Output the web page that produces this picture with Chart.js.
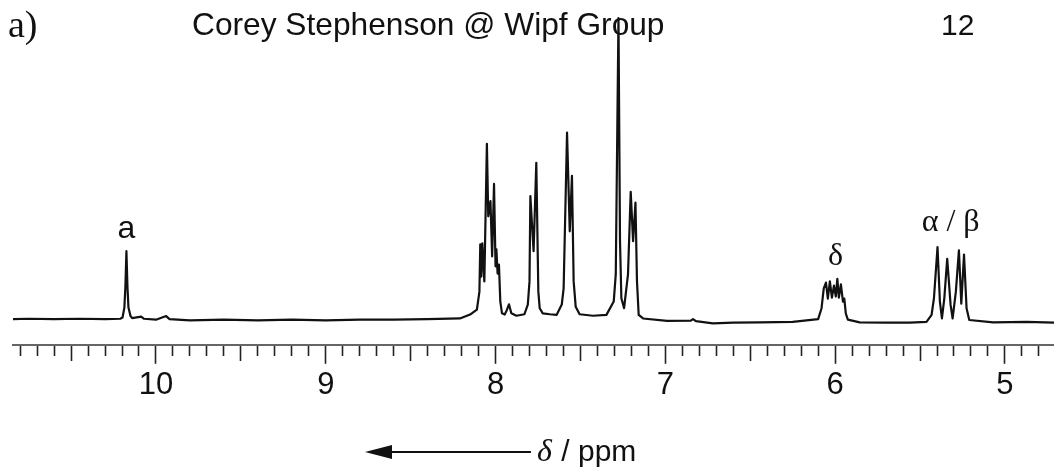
<!DOCTYPE html>
<html>
<head>
<meta charset="utf-8">
<script src="https://cdn.jsdelivr.net/npm/chart.js@4.4.1/dist/chart.umd.min.js"></script>
<style>
  html, body { margin: 0; padding: 0; background: #fff; }
  canvas { display: block; }
</style>
</head>
<body>
<canvas id="c" width="1054" height="467"></canvas>
<script>
// Chemical shift (ppm) and relative intensity (tallest line = 100)
const ppm = [
  10.842, 10.75, 10.60, 10.45, 10.30, 10.21, 10.197, 10.186, 10.180, 10.174, 10.168, 10.162, 10.150, 10.14,
  10.087, 10.07, 10.0, 9.94, 9.92, 9.80, 9.60, 9.40, 9.20, 9.00, 8.80, 8.60, 8.40, 8.21, 8.15, 8.11,
  8.095, 8.09, 8.084, 8.078, 8.066, 8.051, 8.043, 8.030, 8.020, 8.009, 8.000, 7.995, 7.988, 7.980, 7.972,
  7.962, 7.946, 7.935, 7.921, 7.907, 7.877, 7.83, 7.81, 7.800, 7.795, 7.776, 7.760, 7.748, 7.740, 7.722,
  7.68, 7.64, 7.61, 7.599, 7.579, 7.563, 7.550, 7.540, 7.528, 7.505, 7.426, 7.347, 7.304, 7.292, 7.276,
  7.267, 7.259, 7.243, 7.22, 7.204, 7.19, 7.176, 7.167, 7.157, 7.131, 6.99, 6.85, 6.837, 6.82, 6.72,
  6.60, 6.44, 6.25, 6.10, 6.08, 6.067, 6.054, 6.043, 6.031, 6.019, 6.007, 5.996, 5.987, 5.978, 5.966,
  5.954, 5.946, 5.937, 5.925, 5.855, 5.70, 5.56, 5.462, 5.432, 5.418, 5.397, 5.383, 5.371, 5.357, 5.340,
  5.320, 5.308, 5.289, 5.271, 5.257, 5.241, 5.226, 5.210, 5.069, 4.872, 4.711
];
const intensity = [
  0.2, 0.3, 0.2, 0.3, 0.2, 0.3, 0.7, 4.0, 11.0, 22.7, 11.0, 4.0, 1.2, 0.5,
  1.0, 0.3, 0.0, 1.2, 0.2, -0.2, 0.0, -0.2, 0.0, -0.2, 0.0, 0.0, 0.2, 0.4, 1.7, 3.3,
  9.3, 25.0, 14.3, 25.3, 12.7, 58.3, 34.3, 39.3, 21.0, 45.0, 17.7, 23.3, 15.3, 18.3, 6.0,
  2.1, 1.7, 3.0, 5.1, 2.1, 1.3, 1.8, 5.0, 12.7, 41.0, 22.7, 52.0, 9.3, 3.8, 2.1,
  1.8, 1.6, 5.0, 10.4, 62.0, 29.3, 47.7, 12.7, 4.3, 1.8, 1.3, 1.6, 6.0, 15.0, 100,
  26.0, 7.1, 3.8, 15.0, 42.4, 26.0, 38.8, 12.7, 1.6, 0.4, -0.4, -0.3, 0.2, -0.5, -1.2,
  -1.0, -0.9, -0.7, 0.2, 3.8, 10.4, 12.3, 7.0, 12.7, 7.3, 11.3, 7.7, 13.5, 7.3, 11.7,
  6.0, 7.0, 2.0, 0.0, -0.9, -1.0, -1.0, -0.7, 1.6, 7.1, 24.1, 6.0, 0.4, 7.1, 20.2,
  4.9, 0.4, 9.3, 23.0, 5.3, 21.6, 3.8, -0.1, -0.9, -0.7, -1.0
];
// Axis range and tick labels
const ppmMin = 4.711;
const ppmMax = 10.842;
const tickLabels = ['10', '9', '8', '7', '6', '5'];
// Peak assignments: label, shift, intensity level of label baseline
const peakLabels = ['a', 'δ', 'α / β'];
const peakLabelPpm = [10.174, 5.997, 5.32];
const peakLabelLevel = [27, 18, 29.3];

const isInt = v => Math.abs(v - Math.round(v)) < 1e-6;
const isHalf = v => Math.abs(v * 2 - Math.round(v * 2)) < 1e-6;

const annotate = {
  id: 'annotate',
  afterDraw(chart) {
    const ctx = chart.ctx;
    const xs = chart.scales.x, ys = chart.scales.y;
    ctx.save();
    ctx.fillStyle = '#111';
    ctx.textBaseline = 'alphabetic';
    // header
    ctx.font = '38px "Liberation Serif", serif';
    ctx.textAlign = 'left';
    ctx.fillText('a)', 8, 37);
    ctx.font = '31.7px "Liberation Sans", Arial, sans-serif';
    ctx.fillText('Corey Stephenson @ Wipf Group', 192, 35);
    ctx.font = '30px "Liberation Sans", Arial, sans-serif';
    ctx.fillText('12', 941, 35);
    // peak labels
    ctx.textAlign = 'center';
    peakLabels.forEach((t, i) => {
      ctx.font = (i === 0) ? '32px "Liberation Sans", Arial, sans-serif' : '32px "Liberation Serif", serif';
      ctx.fillText(t, xs.getPixelForValue(peakLabelPpm[i]), ys.getPixelForValue(peakLabelLevel[i]));
    });
    // axis caption with arrow
    ctx.strokeStyle = '#111';
    ctx.lineWidth = 2;
    ctx.beginPath();
    ctx.moveTo(388, 452);
    ctx.lineTo(531, 452);
    ctx.stroke();
    ctx.beginPath();
    ctx.moveTo(365, 452);
    ctx.lineTo(392, 445);
    ctx.lineTo(392, 459);
    ctx.closePath();
    ctx.fill();
    ctx.textAlign = 'left';
    ctx.font = 'italic 32px "Liberation Serif", serif';
    ctx.fillText('δ', 537, 461);
    ctx.font = '30px "Liberation Sans", Arial, sans-serif';
    ctx.fillText(' / ppm', 553, 461);
    ctx.restore();
  }
};

new Chart(document.getElementById('c'), {
  type: 'line',
  data: {
    datasets: [{
      data: ppm.map((p, i) => ({ x: p, y: intensity[i] })),
      borderColor: '#111',
      borderWidth: 2.2,
      borderJoinStyle: 'round',
      pointRadius: 0,
      tension: 0,
      fill: false
    }]
  },
  options: {
    responsive: false,
    animation: false,
    events: [],
    layout: { padding: { left: 13, right: 0, top: 0, bottom: 60 } },
    plugins: { legend: { display: false }, tooltip: { enabled: false }, title: { display: false } },
    scales: {
      x: {
        type: 'linear',
        reverse: true,
        min: ppmMin,
        max: ppmMax,
        ticks: {
          stepSize: 0.1,
          includeBounds: false,
          autoSkip: false,
          maxRotation: 0,
          padding: 3,
          color: '#111',
          font: { family: '"Liberation Sans", Arial, sans-serif', size: 31 },
          callback: v => isInt(v) ? tickLabels[tickLabels.indexOf(String(Math.round(v)))] : ''
        },
        grid: {
          drawOnChartArea: false,
          drawTicks: true,
          tickLength: 19,
          tickColor: '#222',
          tickWidth: 1.6,
          tickBorderDash: c => {
            const v = c.tick ? c.tick.value : 0;
            if (isInt(v)) return [];
            if (isHalf(v)) return [15, 40];
            return [10, 40];
          }
        },
        border: { display: true, color: '#666', width: 2 }
      },
      y: { display: false, min: -8.33, max: 106 }
    }
  },
  plugins: [annotate]
});
</script>
</body>
</html>
